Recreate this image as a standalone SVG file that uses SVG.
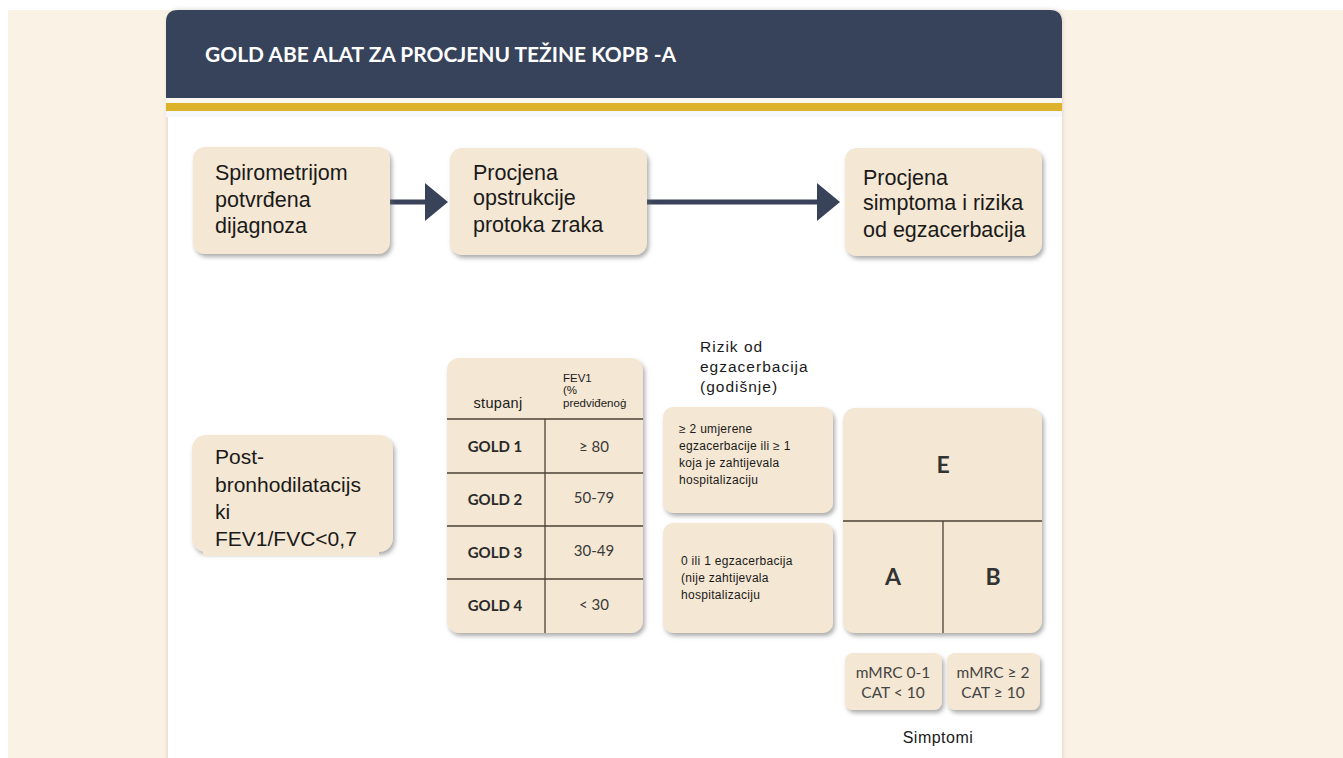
<svg xmlns="http://www.w3.org/2000/svg" width="1343" height="758" viewBox="0 0 1343 758">
<defs>
<filter id="sh" x="-10%" y="-10%" width="125%" height="125%">
<feDropShadow dx="2" dy="3" stdDeviation="2" flood-color="#6b6b6b" flood-opacity="0.55"/>
</filter>
<filter id="cardsh" x="-5%" y="-5%" width="110%" height="110%">
<feDropShadow dx="0" dy="0" stdDeviation="2.5" flood-color="#8a7a66" flood-opacity="0.35"/>
</filter>
<marker id="ah" markerUnits="userSpaceOnUse" markerWidth="24" markerHeight="40" refX="0" refY="19" orient="auto">
<path d="M0,0 L23,19 L0,38 z" fill="#38435a"/>
</marker>
<style>
.box{fill:#F4E7D3;filter:url(#sh);}
.t{font-family:"Liberation Sans",Arial,sans-serif;fill:#1a1a1a;}
.c{font-family:Lato,"Open Sans","Liberation Sans",sans-serif;}
.grid{stroke:#4a4236;stroke-width:1.3;fill:none;}
.conn{stroke:#38435a;stroke-width:5;fill:none;}
</style>
</defs>
<rect x="0" y="0" width="1343" height="758" fill="#ffffff"/>
<rect x="8" y="10" width="1335" height="748" fill="#FBF2E6"/>
<g id="card">
<rect x="168" y="10" width="894" height="760" rx="10" fill="#ffffff" filter="url(#cardsh)"/>
<path d="M166,98 L166,22 Q166,10 178,10 L1050,10 Q1062,10 1062,22 L1062,98 Z" fill="#36435A"/>
<rect x="166" y="98" width="896" height="5" fill="#FBF7EE"/>
<rect x="166" y="103" width="896" height="8" fill="#DDB22B"/>
<rect x="166" y="111" width="896" height="6" fill="#F6F7FB"/>
<text x="205" y="62" class="c" font-size="21" font-weight="bold" fill="#ffffff" textLength="471" lengthAdjust="spacingAndGlyphs">GOLD ABE ALAT ZA PROCJENU TEŽINE KOPB -A</text>
</g>
<g id="connectors">
<line x1="390" y1="202" x2="425" y2="202" class="conn" marker-end="url(#ah)"/>
<line x1="647" y1="202" x2="817" y2="202" class="conn" marker-end="url(#ah)"/>
</g>
<g id="n1">
<rect x="193" y="147" width="197" height="107" rx="12" class="box"/>
<text class="t" font-size="21.5"><tspan x="215" y="180">Spirometrijom</tspan><tspan x="215" y="207">potvrđena</tspan><tspan x="215" y="233">dijagnoza</tspan></text>
</g>
<g id="n2">
<rect x="450" y="148" width="197" height="107" rx="12" class="box"/>
<text class="t" font-size="21.5"><tspan x="473" y="180">Procjena</tspan><tspan x="473" y="205">opstrukcije</tspan><tspan x="473" y="232">protoka zraka</tspan></text>
</g>
<g id="n3">
<rect x="845" y="148" width="197" height="108" rx="12" class="box"/>
<text class="t" font-size="21.5"><tspan x="863" y="185">Procjena</tspan><tspan x="863" y="210">simptoma i rizika</tspan><tspan x="863" y="237">od egzacerbacija</tspan></text>
</g>
<g id="post">
<rect x="192" y="435" width="201" height="117" rx="14" class="box"/>
<rect x="203" y="436" width="176" height="120" fill="#F4E7D3"/>
<text class="t" font-size="21"><tspan x="215" y="464">Post-</tspan><tspan x="215" y="492">bronhodilatacijs</tspan><tspan x="215" y="519">ki</tspan><tspan x="215" y="546">FEV1/FVC&lt;0,7</tspan></text>
</g>
<g id="table">
<rect x="447" y="358" width="196" height="275" rx="12" class="box"/>
<line x1="447" y1="419" x2="643" y2="419" class="grid"/>
<line x1="447" y1="473" x2="643" y2="473" class="grid"/>
<line x1="447" y1="526" x2="643" y2="526" class="grid"/>
<line x1="447" y1="579" x2="643" y2="579" class="grid"/>
<line x1="545" y1="419" x2="545" y2="633" class="grid"/>
<text x="498" y="408" class="t" font-size="14.5" letter-spacing="0.3" text-anchor="middle">stupanj</text>
<text class="t" font-size="11.5"><tspan x="563" y="382">FEV1</tspan><tspan x="563" y="394">(%</tspan><tspan x="563" y="407">predviđenoġ</tspan></text>
<g class="c" font-size="15" font-weight="bold" fill="#2a2a2a" text-anchor="middle">
<text x="495" y="452">GOLD 1</text>
<text x="495" y="505">GOLD 2</text>
<text x="495" y="558">GOLD 3</text>
<text x="495" y="611">GOLD 4</text>
</g>
<g class="c" font-size="15" fill="#3a3a3a" text-anchor="middle">
<text x="594" y="452">≥ 80</text>
<text x="594" y="503">50-79</text>
<text x="594" y="556">30-49</text>
<text x="594" y="610">&lt; 30</text>
</g>
</g>
<g id="risk-label">
<text class="t" font-size="15.5" letter-spacing="1"><tspan x="700" y="352">Rizik od</tspan><tspan x="700" y="372">egzacerbacija</tspan><tspan x="700" y="392">(godišnje)</tspan></text>
</g>
<g id="risk-high">
<rect x="663" y="407" width="170" height="106" rx="10" class="box"/>
<text class="t" font-size="12" letter-spacing="0.3"><tspan x="679" y="433">≥ 2 umjerene</tspan><tspan x="679" y="450">egzacerbacije ili ≥ 1</tspan><tspan x="679" y="467">koja je zahtijevala</tspan><tspan x="679" y="484">hospitalizaciju</tspan></text>
</g>
<g id="risk-low">
<rect x="663" y="523" width="170" height="110" rx="10" class="box"/>
<text class="t" font-size="12" letter-spacing="0.3"><tspan x="681" y="565">0 ili 1 egzacerbacija</tspan><tspan x="681" y="582">(nije zahtijevala</tspan><tspan x="681" y="599">hospitalizaciju</tspan></text>
</g>
<g id="grid-eab">
<rect x="843" y="408" width="199" height="225" rx="12" class="box"/>
<line x1="843" y1="521" x2="1042" y2="521" class="grid"/>
<line x1="943" y1="521" x2="943" y2="633" class="grid" stroke-width="1"/>
<g class="c" font-size="23" font-weight="bold" fill="#333333" text-anchor="middle">
<text x="943" y="473">E</text>
<text x="893" y="585">A</text>
<text x="993" y="585">B</text>
</g>
</g>
<g id="s1">
<rect x="845" y="653" width="97" height="57" rx="8" class="box"/>
<text class="c" font-size="15.5" fill="#444444" text-anchor="middle"><tspan x="893" y="678">mMRC 0-1</tspan><tspan x="893" y="698">CAT &lt; 10</tspan></text>
</g>
<g id="s2">
<rect x="947" y="653" width="93" height="57" rx="8" class="box"/>
<text class="c" font-size="15.5" fill="#444444" text-anchor="middle"><tspan x="993" y="678">mMRC ≥ 2</tspan><tspan x="993" y="698">CAT ≥ 10</tspan></text>
</g>
<g id="symptom-label">
<text x="938" y="743" class="t" font-size="16" letter-spacing="0.5" text-anchor="middle">Simptomi</text>
</g>
</svg>
